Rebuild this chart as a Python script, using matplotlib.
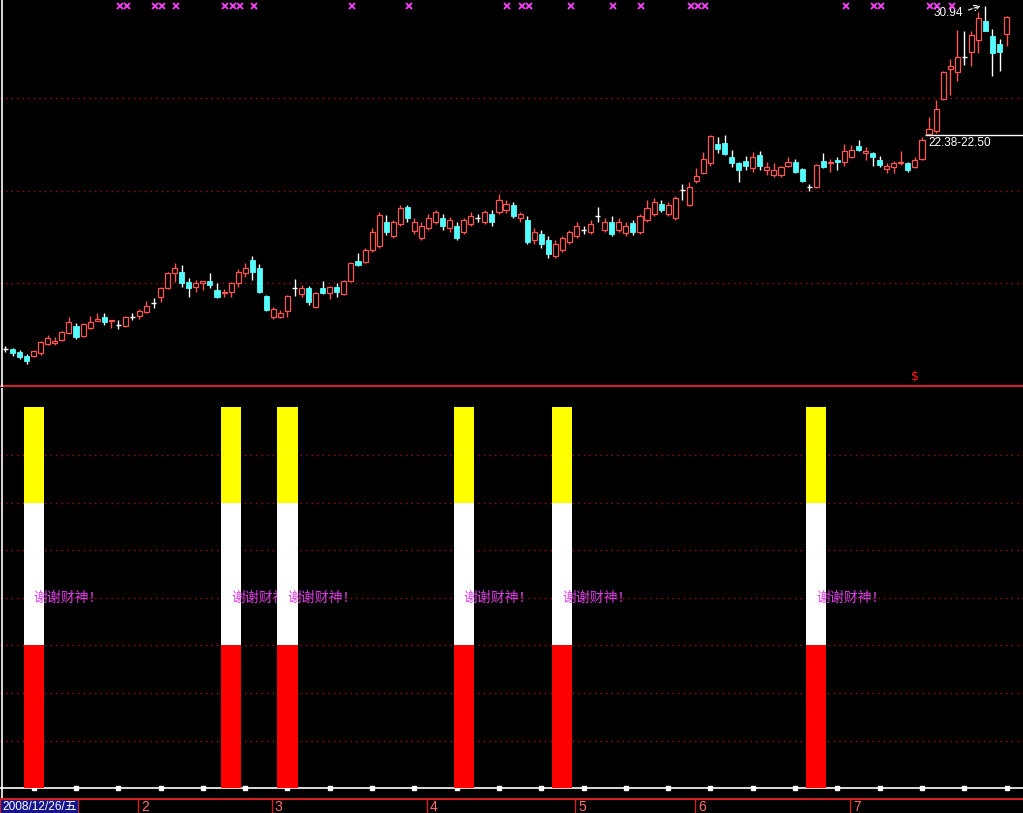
import numpy as np
import matplotlib
matplotlib.use('Agg')
import matplotlib.pyplot as plt
from matplotlib.patches import Rectangle

# daily K line, 2008/12/26 .. 2009/07
opens = [8.51, 8.51, 8.31, 8.05, 8.05, 8.24, 8.83, 8.90, 9.09, 9.55,
         10.01, 9.36, 9.88, 10.34, 10.60, 10.34, 10.08, 10.01, 10.60, 10.66,
         10.93, 11.51, 11.91, 12.50, 13.47, 13.54, 12.89, 12.56, 12.82, 12.95,
         12.37, 12.17, 12.23, 12.82, 13.47, 14.33, 13.80, 11.97, 10.60, 10.60,
         10.99, 12.50, 12.10, 12.50, 11.25, 12.50, 12.17, 12.56, 12.10, 12.95,
         14.26, 14.20, 14.98, 15.24, 16.81, 15.90, 16.68, 17.79, 16.22, 15.77,
         16.42, 16.81, 17.07, 16.42, 16.55, 16.16, 16.68, 17.07, 16.81, 17.33,
         17.47, 17.60, 17.92, 17.07, 16.94, 15.63, 16.03, 15.63, 14.59, 14.98,
         15.50, 15.90, 16.29, 16.16, 17.20, 16.29, 16.81, 16.29, 16.09, 16.75,
         16.16, 16.94, 17.33, 17.99, 17.33, 17.07, 18.90, 17.92, 19.49, 20.02,
         20.67, 21.91, 21.98, 21.06, 20.67, 20.80, 20.34, 21.19, 20.21, 19.89,
         19.89, 20.47, 20.74, 20.28, 19.10, 19.10, 20.80, 20.67, 20.87, 20.74,
         21.06, 21.78, 21.32, 21.32, 20.87, 20.28, 20.41, 20.67, 20.67, 20.41,
         20.93, 22.55, 22.76, 24.86, 26.82, 26.62, 27.60, 27.93, 28.71, 29.96,
         28.98, 28.45, 29.11]
closes = [8.51, 8.24, 7.98, 7.72, 8.37, 8.96, 9.22, 9.03, 9.62, 10.27,
          9.29, 10.14, 10.27, 10.47, 10.27, 10.40, 10.08, 10.60, 10.60, 10.99,
          11.32, 11.51, 12.50, 13.47, 13.80, 12.82, 12.50, 12.82, 12.95, 12.69,
          11.91, 12.23, 12.82, 13.54, 13.80, 13.54, 12.23, 11.06, 11.12, 10.86,
          11.97, 12.50, 12.50, 11.58, 12.17, 12.17, 12.56, 12.23, 12.95, 14.13,
          14.00, 14.98, 16.16, 17.27, 16.16, 16.81, 17.73, 17.07, 16.81, 16.55,
          17.07, 17.47, 16.55, 16.94, 15.77, 16.94, 17.20, 17.07, 17.47, 16.81,
          18.25, 17.99, 17.20, 17.33, 15.50, 16.16, 15.37, 14.72, 15.37, 15.77,
          16.16, 16.55, 16.29, 16.68, 17.20, 16.81, 16.03, 16.81, 16.55, 16.16,
          17.20, 17.73, 18.12, 17.60, 17.92, 18.38, 18.90, 19.10, 19.82, 20.93,
          22.44, 21.59, 21.26, 20.67, 20.21, 20.47, 21.06, 20.47, 20.41, 20.21,
          20.41, 20.74, 20.08, 19.49, 19.10, 20.54, 20.41, 20.74, 20.74, 21.46,
          21.52, 21.52, 21.46, 21.06, 20.54, 20.47, 20.67, 20.74, 20.21, 20.87,
          22.17, 22.89, 24.20, 26.62, 27.01, 27.60, 27.60, 29.04, 30.15, 29.30,
          27.86, 27.93, 30.22]
highs = [8.70, 8.57, 8.44, 8.18, 8.44, 9.03, 9.42, 9.29, 9.68, 10.60,
         10.21, 10.21, 10.66, 10.86, 10.86, 10.40, 10.40, 10.66, 10.86, 11.12,
         11.64, 11.84, 12.56, 13.54, 14.13, 14.00, 13.15, 13.02, 12.95, 13.47,
         12.82, 12.43, 12.89, 13.74, 14.13, 14.59, 14.06, 12.04, 11.25, 11.06,
         12.04, 13.08, 12.69, 12.63, 12.23, 12.95, 12.63, 12.82, 13.02, 14.20,
         14.78, 15.11, 16.42, 17.47, 17.27, 16.94, 17.92, 17.92, 17.07, 16.81,
         17.33, 17.60, 17.33, 17.14, 16.81, 17.07, 17.47, 17.33, 17.60, 17.60,
         18.64, 18.25, 18.12, 17.47, 17.20, 16.42, 16.29, 15.90, 15.63, 15.90,
         16.29, 16.81, 16.55, 16.94, 17.79, 17.07, 17.20, 17.07, 16.81, 16.94,
         17.33, 18.25, 18.38, 18.25, 18.12, 18.51, 19.30, 19.43, 20.34, 21.39,
         22.50, 22.37, 22.50, 21.52, 20.74, 21.13, 21.39, 21.46, 20.74, 20.67,
         20.47, 21.06, 20.93, 20.34, 19.30, 20.60, 21.32, 20.93, 21.06, 21.91,
         21.85, 22.17, 21.72, 21.39, 21.13, 20.67, 20.80, 21.46, 20.74, 21.06,
         22.38, 23.68, 24.79, 26.69, 27.47, 29.37, 29.30, 29.30, 30.55, 30.94,
         29.43, 28.78, 30.28]
lows = [8.31, 8.05, 7.85, 7.52, 7.98, 8.11, 8.77, 8.77, 9.03, 9.49,
        9.16, 9.29, 9.81, 10.34, 10.08, 9.88, 9.81, 9.94, 10.40, 10.47,
        10.86, 11.19, 11.58, 12.43, 12.89, 12.56, 11.91, 12.23, 12.37, 12.50,
        11.84, 11.91, 11.91, 12.56, 13.21, 13.02, 12.17, 10.99, 10.47, 10.53,
        10.60, 11.97, 11.91, 11.38, 11.19, 12.10, 11.78, 11.91, 12.04, 12.89,
        13.93, 14.13, 14.85, 15.11, 15.96, 15.77, 16.55, 16.81, 16.03, 15.63,
        16.29, 16.68, 16.29, 16.16, 15.63, 16.03, 16.55, 16.81, 16.68, 16.55,
        17.33, 17.40, 17.07, 16.81, 15.37, 15.37, 15.11, 14.46, 14.46, 14.85,
        15.37, 15.77, 16.03, 16.03, 16.81, 16.16, 15.90, 16.16, 15.90, 15.96,
        16.03, 16.81, 17.20, 17.47, 17.20, 16.94, 18.25, 17.86, 19.36, 19.95,
        20.47, 21.32, 21.19, 20.41, 19.43, 20.21, 20.08, 20.21, 19.89, 19.75,
        19.75, 20.41, 20.02, 19.43, 18.84, 19.03, 20.34, 20.08, 20.21, 20.47,
        21.00, 21.46, 20.87, 20.47, 20.41, 20.02, 20.02, 20.54, 20.08, 20.34,
        20.87, 22.50, 22.63, 24.79, 25.12, 26.03, 27.08, 27.01, 27.86, 29.30,
        26.36, 26.69, 28.32]

signal_idx = [4, 32, 40, 65, 79, 115]
top_marks = [16, 17, 21, 22, 24, 31, 32, 33, 35, 49, 57, 71, 73, 74, 80, 86, 90,
             97, 98, 99, 119, 123, 124, 131, 132, 134]
month_idx = [19, 38, 60, 81, 98, 120]
month_lab = ['2', '3', '4', '5', '6', '7']
grid_prices = [12.82, 18.84, 24.92]
gap_low, gap_high = 22.38, 22.50
max_price = 30.94
max_idx = 139
dollar_idx = 129

RED = '#FF5454'
CYAN = '#54FFFF'
GRID = '#A01010'

W, H = 1023, 813
fig = plt.figure(figsize=(W / 100, H / 100), dpi=100, facecolor='black')

def box(top, bottom):
    return [0, 1 - bottom / H, 1, (bottom - top) / H]

xlo, xhi = -0.78, 144.33
ax1 = fig.add_axes(box(0, 387))
ax2 = fig.add_axes(box(388, 798))
ax3 = fig.add_axes(box(798, 813))
for ax in (ax1, ax2, ax3):
    ax.set_facecolor('black')
    ax.set_xlim(xlo, xhi)
    ax.axis('off')

# ---------------- upper panel: candles ----------------
ax1.set_ylim(6.02, 31.33)
for g in grid_prices:
    ax1.axhline(g, color=GRID, lw=1, ls=(0, (1, 3)), zorder=0)
ax1.axhline(6.06, color='#E02020', lw=1.4, zorder=1)
ax1.axvline(-0.55, color='white', lw=1.2)

w = 0.72
for i in range(len(opens)):
    o, h, l, c = opens[i], highs[i], lows[i], closes[i]
    if c > o:
        ax1.vlines(i, c, h, color=RED, lw=1, zorder=2)
        ax1.vlines(i, l, o, color=RED, lw=1, zorder=2)
        ax1.add_patch(Rectangle((i - w / 2, o), w, c - o, facecolor='black',
                                edgecolor=RED, lw=0.9, zorder=3))
    elif c < o:
        ax1.vlines(i, l, h, color='white', lw=1, zorder=2)
        ax1.add_patch(Rectangle((i - w / 2, c), w, o - c, facecolor=CYAN,
                                edgecolor=CYAN, lw=0.6, zorder=3))
    else:
        ax1.vlines(i, l, h, color='white', lw=1, zorder=2)
        ax1.hlines(o, i - w / 2, i + w / 2, color='white', lw=1, zorder=3)

# magenta marks along the top
ax1.plot(np.array(top_marks) + 0.2, [30.94] * len(top_marks), 'x',
         color='#FF40FF', ms=4, mew=1.3, zorder=4)

# gap annotation
ax1.hlines(gap_high, 130.4, xhi, color='white', lw=1, zorder=4)
ax1.text(130.9, 22.35, '%.2f-%.2f' % (gap_low, gap_high), color='white',
         fontsize=8.5, family='Liberation Sans', va='top', ha='left')
ax1.text(131.6, 30.45, '%.2f' % max_price, color='white', fontsize=8.5,
         family='Liberation Sans', va='center', ha='left')
ax1.annotate('', xy=(max_idx - 0.3, 31.0), xytext=(136.2, 30.62),
             arrowprops=dict(arrowstyle='->', color='white', lw=0.8, ls='--'))
ax1.text(dollar_idx, 6.25, '$', color='#FF2020', fontsize=9, ha='center',
         va='bottom', family='DejaVu Sans')

# ---------------- lower panel: signals ----------------
ax2.set_ylim(-0.21, 8.42)
for g in range(1, 8):
    ax2.axhline(g, color=GRID, lw=1, ls=(0, (1, 3)), zorder=0)
ax2.axvline(-0.55, color='white', lw=1.2)
ax2.axhline(0, color='white', lw=1.2, zorder=1)
sq = np.arange(4, len(opens), 6)
ax2.plot(sq, np.zeros(len(sq)), 's', color='white', ms=3.5, zorder=1)

bw = 2.84
z = 2
for s in signal_idx:
    ax2.bar(s, 3, bottom=0, width=bw, color='#FF0000', zorder=z)
    ax2.bar(s, 3, bottom=3, width=bw, color='white', zorder=z)
    ax2.bar(s, 2.02, bottom=6, width=bw, color='#FFFF00', zorder=z)
    ax2.text(s, 4.0, '谢谢财神！', color='#E040E8', fontsize=10,
             family=['Noto Sans CJK SC', 'DejaVu Sans'], va='center',
             ha='left', zorder=z + 1)
    z += 2

# ---------------- date axis ----------------
ax3.set_ylim(0, 1)
ax3.axhline(0.95, color='#D02020', lw=1.5)
ax3.vlines(np.array(month_idx) - 0.15, 0, 1, color='#D02020', lw=1)
for m, lab in zip(month_idx, month_lab):
    ax3.text(m + 0.2, 0.4, lab, color='#FF7070', fontsize=10,
             family='Liberation Sans', va='center', ha='left')
ax3.add_patch(Rectangle((0, 0), 78 / W, 0.95, transform=ax3.transAxes,
                        facecolor='#14148C', edgecolor='#D02020', lw=0.8))
ax3.text(0.002, 0.42, '2008/12/26/五', color='white', fontsize=8.6,
         family=['Liberation Sans', 'Noto Sans CJK SC'], va='center',
         ha='left', transform=ax3.transAxes)

fig.savefig('out.png', dpi=100, facecolor='black')
